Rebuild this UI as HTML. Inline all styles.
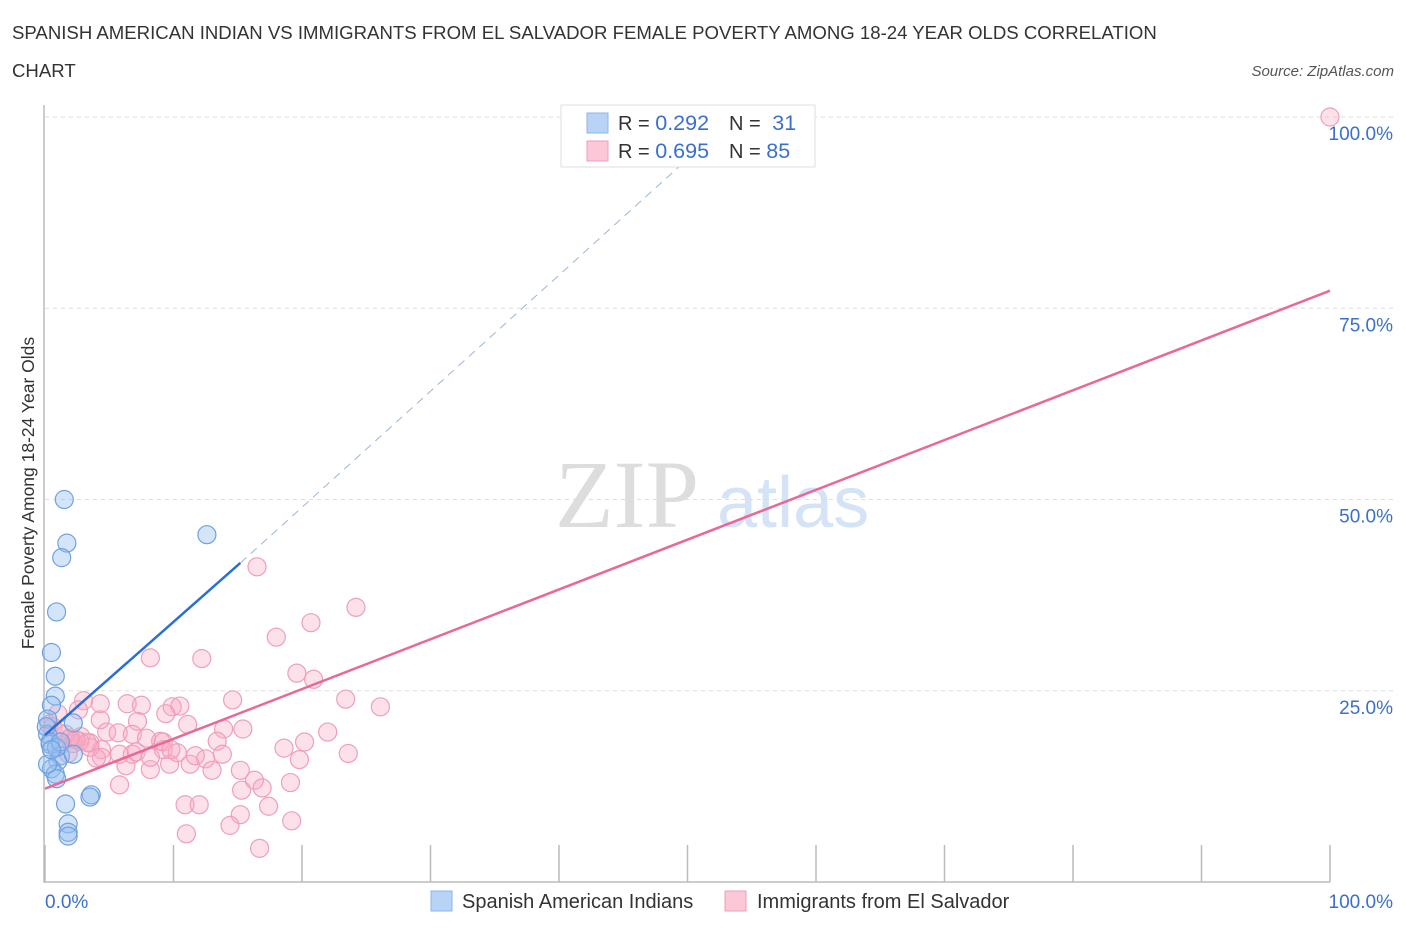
<!DOCTYPE html>
<html><head><meta charset="utf-8"><style>
body{margin:0;background:#fff;font-family:"Liberation Sans",sans-serif;}
svg{display:block}
</style></head><body>
<svg id="chart" width="1406" height="930" xmlns="http://www.w3.org/2000/svg" font-family="Liberation Sans, sans-serif">
<text x="12" y="39" font-size="18.6" fill="#333">SPANISH AMERICAN INDIAN VS IMMIGRANTS FROM EL SALVADOR FEMALE POVERTY AMONG 18-24 YEAR OLDS CORRELATION</text>
<text x="12" y="77" font-size="18.6" fill="#333">CHART</text>
<text x="1394" y="76" font-size="15" fill="#555" font-style="italic" text-anchor="end">Source: ZipAtlas.com</text>
<text x="555" y="527" font-size="96" fill="#ddd" font-family="Liberation Serif, serif">ZIP</text>
<text x="717" y="527" font-size="72" fill="#d4e3f5">atlas</text>
<text transform="translate(34,493) rotate(-90)" font-size="17.5" fill="#333" text-anchor="middle">Female Poverty Among 18-24 Year Olds</text>
<g id="grid"></g><g id="axes"></g><g id="pts"></g><g id="lines"></g>
<g>
<rect x="561" y="105" width="254" height="62" fill="#fff" stroke="#ddd"/>
<rect x="587" y="113" width="21" height="20" fill="#b8d3f5" stroke="#8db4e8"/>
<rect x="587" y="141" width="21" height="20" fill="#fcc7d6" stroke="#ef9fb8"/>
<text x="618" y="130" font-size="20" fill="#333">R = <tspan fill="#3a70cc" font-size="21.5">0.292</tspan></text>
<text x="729" y="130" font-size="20" fill="#333">N = <tspan fill="#3a70cc" dx="6" font-size="21.5">31</tspan></text>
<text x="618" y="158" font-size="20" fill="#333">R = <tspan fill="#3a70cc" font-size="21.5">0.695</tspan></text>
<text x="729" y="158" font-size="20" fill="#333">N = <tspan fill="#3a70cc" font-size="21.5">85</tspan></text>
</g>
<g>
<rect x="431" y="891" width="21" height="20" fill="#b8d3f5" stroke="#8db4e8"/>
<text x="462" y="908" font-size="20" fill="#333">Spanish American Indians</text>
<rect x="725" y="891" width="21" height="20" fill="#fcc7d6" stroke="#ef9fb8"/>
<text x="757" y="908" font-size="20" fill="#333">Immigrants from El Salvador</text>
</g>
</svg>
<script>
const yTicks=[25,50,75,100];
const yTickLabels=["25.0%","50.0%","75.0%","100.0%"];
const blueX=[1.5,1.7,1.3,0.9,0.5,0.8,0.8,0.5,0.2,2.2,0.2,0.4,1.2,1.0,2.2,0.5,0.8,0.9,3.6,3.5,1.6,1.8,1.8,1.8,12.6,0.1,0.4,0.9,1.2,0.2,0.5];
const blueY=[50,44.3,42.4,35.3,30,26.9,24.3,23.1,21.3,20.8,19.3,18,16.5,15.8,16.7,14.8,14.1,13.5,11.4,11.1,10.2,7.6,6.5,6,45.4,20.3,18.3,17.6,18.3,15.4,17.3];
const pinkX=[16.5,24.2,20.7,18,8.2,12.2,19.6,20.9,23.4,26.1,3,4.3,6.4,7.5,9.9,10.5,14.6,9.4,4.3,7.2,11.1,13.9,4.8,5.7,6.8,7.9,9,13.4,18.6,20.2,15.4,23.6,16.7,2.8,0.6,1.1,2,3.5,4.4,2.2,5.8,6.8,8.2,9.7,11.3,12.5,11,15.2,19.1,19.8,9.2,10.3,13,15.3,17.4,16.3,16.9,10.9,12,15.2,19.2,14.4,5.8,6.3,7.1,9.2,9.8,11.7,8.2,13.8,4.4,3.5,2.7,1.9,1.2,1.6,2.4,3.3,4,1.0,1.8,0.3,22,2.6,100];
const pinkY=[41.2,35.9,33.9,32,29.3,29.2,27.3,26.5,23.9,22.9,23.7,23.3,23.3,23.1,22.9,23,23.8,22,21.2,21,20.6,20,19.6,19.5,19.3,18.8,18.4,18.4,17.5,18.3,20,16.8,4.4,19,20.3,19.5,18.8,18.2,17.3,18.1,16.7,16.7,14.7,15.4,15.4,16.1,6.3,14.6,13,16,17.3,16.9,14.6,12,9.9,13.3,12.3,10.1,10.1,8.8,8,7.4,12.7,15.2,17,18.3,17.3,16.5,16.3,16.7,16.3,17.6,18.4,18.8,17.9,19.3,18.6,18.2,16.2,22,16.8,20.6,19.6,22.5,100];
const blueLine=[0,19.2,15.2,41.7];
const blueDash=[15.2,41.7,52.5,98.3];
const pinkLine=[0,12.2,100,77.3];
const NS="http://www.w3.org/2000/svg";
const X=v=>45+v*12.85, Y=v=>882-v*7.65;
function mk(p,t,a){const e=document.createElementNS(NS,t);for(const k in a)e.setAttribute(k,a[k]);document.getElementById(p).appendChild(e);return e;}
yTicks.forEach((t,i)=>{
 const g=mk('grid','line',{x1:45,x2:1395,y1:Y(t),y2:Y(t),stroke:'#ddd','stroke-dasharray':'4,4'});
 
 
 const l=mk('grid','text',{x:1393,y:Y(t)+23,'font-size':19,fill:'#3a70cc','text-anchor':'end'});
 l.textContent=yTickLabels[i];
 
 
});
const ax=mk('axes','path',{d:'M44,105 V882 H1330',stroke:'#bbb',fill:'none','stroke-width':1.5});


for(let i=0;i<=10;i++){const t=mk('axes','line',{x1:X(i*10),x2:X(i*10),y1:845,y2:882,stroke:'#bbb','stroke-width':1.5});
 
 }
const xl0=mk('axes','text',{x:45,y:908,'font-size':19,fill:'#3a70cc'});xl0.textContent='0.0%';


const xl1=mk('axes','text',{x:1393,y:908,'font-size':19,fill:'#3a70cc','text-anchor':'end'});xl1.textContent='100.0%';


pinkX.forEach((v,i)=>{const c=mk('pts','circle',{cx:X(v),cy:Y(pinkY[i]),r:9,fill:'rgba(248,170,195,0.35)',stroke:'#ef9fb8','stroke-width':1.2});
 
 });
blueX.forEach((v,i)=>{const c=mk('pts','circle',{cx:X(v),cy:Y(blueY[i]),r:9,fill:'rgba(150,190,240,0.4)',stroke:'#6fa1e0','stroke-width':1.2});
 
 });
const bl=mk('lines','line',{x1:X(blueLine[0]),y1:Y(blueLine[1]),x2:X(blueLine[2]),y2:Y(blueLine[3]),stroke:'#2a6fd6','stroke-width':2.5});


const bd=mk('lines','line',{x1:X(blueDash[0]),y1:Y(blueDash[1]),x2:X(blueDash[2]),y2:Y(blueDash[3]),stroke:'#9ab6d8','stroke-width':1,'stroke-dasharray':'8,6'});


const pl=mk('lines','line',{x1:X(pinkLine[0]),y1:Y(pinkLine[1]),x2:X(pinkLine[2]),y2:Y(pinkLine[3]),stroke:'#e8689a','stroke-width':2.5});


</script>
</body></html>
